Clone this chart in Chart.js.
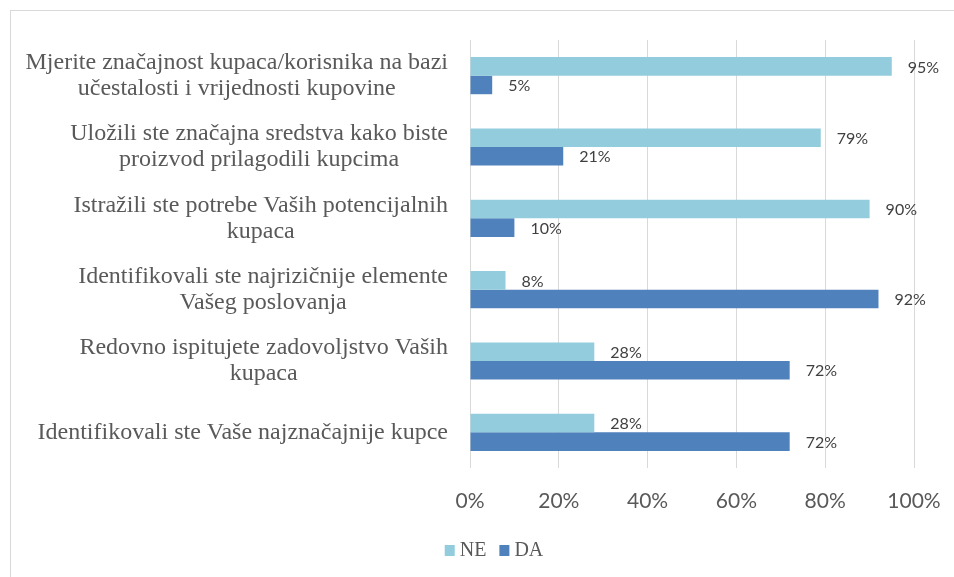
<!DOCTYPE html>
<html>
<head>
<meta charset="utf-8">
<script src="https://cdn.jsdelivr.net/npm/chart.js@4.4.1/dist/chart.umd.min.js"></script>
<style>
  html, body { margin: 0; padding: 0; background: #ffffff; overflow: hidden; }
  #wrap { position: relative; width: 954px; height: 577px; }
</style>
</head>
<body>
<div id="wrap"><canvas id="chart" width="954" height="577"></canvas></div>
<script>
// Survey statements (each entry holds the wrapped lines of one label)
const categories = [
  ['Mjerite značajnost kupaca/korisnika na bazi', 'učestalosti i vrijednosti kupovine'],
  ['Uložili ste značajna sredstva kako biste', 'proizvod prilagodili kupcima'],
  ['Istražili ste potrebe Vaših potencijalnih', 'kupaca'],
  ['Identifikovali ste najrizičnije elemente', 'Vašeg poslovanja'],
  ['Redovno ispitujete zadovoljstvo Vaših', 'kupaca'],
  ['Identifikovali ste Vaše najznačajnije kupce']
];

const seriesNames = ['NE', 'DA'];
const neValues = [95, 79, 90, 8, 28, 28];
const daValues = [5, 21, 10, 92, 72, 72];

const xTickValues = [0, 20, 40, 60, 80, 100];
const xTickLabels = ['0%', '20%', '40%', '60%', '80%', '100%'];

const COLORS = ['#93CDDD', '#4F81BD'];

// Outer frame of the chart object
const framePlugin = {
  id: 'frame',
  beforeDraw(chart) {
    const ctx = chart.ctx;
    ctx.save();
    ctx.fillStyle = '#ffffff';
    ctx.fillRect(0, 0, chart.width, chart.height);
    ctx.strokeStyle = '#d9d9d9';
    ctx.lineWidth = 1;
    ctx.strokeRect(10.5, 10.5, 1200, 1200);
    ctx.restore();
  }
};

// Category labels: each block right-aligned to the axis, its lines centred on each other
const categoryLabelPlugin = {
  id: 'categoryLabels',
  afterDraw(chart) {
    const ctx = chart.ctx;
    const yScale = chart.scales.y;
    const right = chart.chartArea.left - 22;
    const lineHeight = 26;
    ctx.save();
    ctx.font = '24px "Liberation Serif", "Times New Roman", serif';
    ctx.fillStyle = '#595959';
    ctx.textAlign = 'center';
    ctx.textBaseline = 'middle';
    chart.data.labels.forEach((lines, i) => {
      const arr = Array.isArray(lines) ? lines : [lines];
      const widest = Math.max(...arr.map(l => ctx.measureText(l).width));
      const cx = right - widest / 2;
      const cy = yScale.getPixelForTick(i);
      const y0 = cy - (arr.length - 1) * lineHeight / 2;
      arr.forEach((l, k) => ctx.fillText(l, cx, y0 + k * lineHeight));
    });
    ctx.restore();
  }
};

// Value labels just past the end of each bar
const valueLabelPlugin = {
  id: 'valueLabels',
  afterDatasetsDraw(chart) {
    const ctx = chart.ctx;
    ctx.save();
    ctx.font = '16px Lato, "Open Sans", sans-serif';
    ctx.fillStyle = '#404040';
    ctx.textAlign = 'left';
    ctx.textBaseline = 'middle';
    chart.data.datasets.forEach((ds, di) => {
      const meta = chart.getDatasetMeta(di);
      meta.data.forEach((bar, i) => {
        ctx.fillText(ds.data[i] + '%', bar.x + 16, bar.y + 1);
      });
    });
    ctx.restore();
  }
};

// Legend below the axis
const legendPlugin = {
  id: 'bottomLegend',
  afterDraw(chart) {
    const ctx = chart.ctx;
    const centerX = 494;
    const cy = 551;
    const box = 10;
    const boxGap = 5;
    const itemGap = 13;
    ctx.save();
    ctx.font = '20px "Liberation Serif", "Times New Roman", serif';
    ctx.textBaseline = 'middle';
    ctx.textAlign = 'left';
    const items = chart.data.datasets.map(ds => ({
      label: ds.label, color: ds.backgroundColor,
      w: box + boxGap + ctx.measureText(ds.label).width
    }));
    const total = items.reduce((s, it) => s + it.w, 0) + itemGap * (items.length - 1);
    let x = centerX - total / 2;
    items.forEach(it => {
      ctx.fillStyle = it.color;
      ctx.fillRect(x, cy - box / 2 - 1, box, box + 1);
      ctx.fillStyle = '#595959';
      ctx.fillText(it.label, x + box + boxGap, cy);
      x += it.w + itemGap;
    });
    ctx.restore();
  }
};

new Chart(document.getElementById('chart'), {
  type: 'bar',
  data: {
    labels: categories,
    datasets: [
      { label: seriesNames[0], data: neValues, backgroundColor: COLORS[0] },
      { label: seriesNames[1], data: daValues, backgroundColor: COLORS[1] }
    ]
  },
  options: {
    indexAxis: 'y',
    responsive: false,
    animation: false,
    devicePixelRatio: 1,
    layout: { padding: { left: 0, right: 40, top: 40, bottom: 49 } },
    datasets: { bar: { categoryPercentage: 0.52, barPercentage: 1.0 } },
    plugins: { legend: { display: false }, tooltip: { enabled: false } },
    scales: {
      x: {
        min: 0, max: 100,
        afterBuildTicks: s => { s.ticks = xTickValues.map(v => ({ value: v })); },
        afterFit: s => { s.height = 60; s.paddingLeft = 0; s.paddingRight = 0; },
        grid: { color: '#d9d9d9', lineWidth: 1, drawTicks: false },
        border: { display: false },
        ticks: {
          padding: 21,
          maxRotation: 0,
          color: '#595959',
          font: { family: 'Lato, "Open Sans", sans-serif', size: 21 },
          callback: (v, i) => xTickLabels[i]
        }
      },
      y: {
        afterFit: s => { s.width = 470; },
        grid: { display: false },
        border: { display: false },
        ticks: { display: false }
      }
    }
  },
  plugins: [framePlugin, categoryLabelPlugin, valueLabelPlugin, legendPlugin]
});
</script>
</body>
</html>
